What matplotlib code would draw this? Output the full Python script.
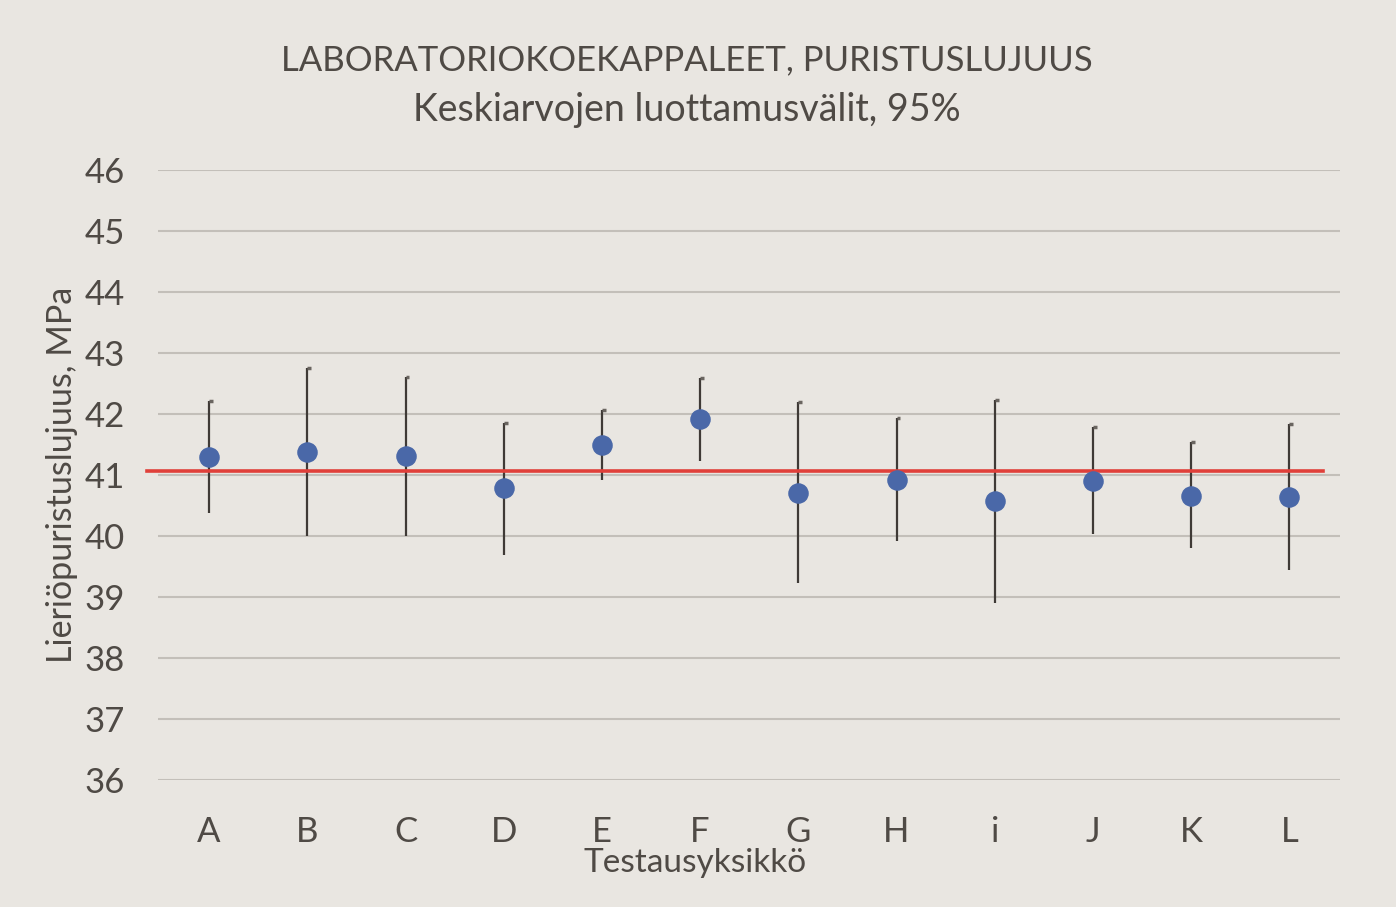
import numpy as np
import matplotlib.pyplot as plt

# data
yksikot = ["A", "B", "C", "D", "E", "F", "G", "H", "i", "J", "K", "L"]
keskiarvo = [41.30, 41.38, 41.31, 40.79, 41.49, 41.92, 40.70, 40.92, 40.57, 40.90, 40.66, 40.64]
ylaraja = [42.21, 42.75, 42.61, 41.85, 42.07, 42.59, 42.20, 41.93, 42.23, 41.79, 41.54, 41.84]
alaraja = [40.38, 40.00, 40.00, 39.69, 40.92, 41.23, 39.23, 39.92, 38.90, 40.03, 39.80, 39.44]
kokonaiskeskiarvo = 41.07

bg = "#E9E6E1"
txt = "#4F4A45"
plt.rcParams['font.family'] = ['Lato', 'DejaVu Sans']

W, H = 1396, 907
fig = plt.figure(figsize=(W / 100, H / 100), dpi=100, facecolor=bg)
ax = fig.add_axes([0.1132, 0.14, 0.847, 0.6726], facecolor=bg)

x = np.arange(len(yksikot))
ax.vlines(x, alaraja, ylaraja, color="#3F3A36", lw=1.6, zorder=3)
ax.hlines(ylaraja, x, x + 0.04, color="#6A6560", lw=2.5, zorder=3)
ax.plot([-0.63, 11.34], [kokonaiskeskiarvo] * 2, color="#E0403A", lw=2.6,
        clip_on=False, zorder=4)
ax.scatter(x, keskiarvo, s=190, color="#4A68A8", zorder=5)

ax.set_ylim(36, 46)
ax.set_xlim(-0.52, 11.52)
ax.set_yticks(range(36, 47))
ax.set_xticks(x)
ax.set_xticklabels(yksikot)
ax.yaxis.grid(True, color="#C3BFB9", lw=1.5)
ax.set_axisbelow(True)
for s in ax.spines.values():
    s.set_visible(False)
ax.tick_params(length=0, colors=txt, labelsize=25)
ax.tick_params(axis="y", pad=24)
ax.tick_params(axis="x", pad=26)

# otsikot ja akselien nimet
fig.text(695 / W, 1 - 863 / H, "Testausyksikkö", fontsize=24, color=txt,
         ha="center", va="center")
fig.text(62 / W, 1 - 475 / H, "Lieriöpuristuslujuus, MPa", fontsize=24.5,
         color=txt, ha="center", va="center", rotation=90)
fig.text(687 / W, 1 - 60 / H, "LABORATORIOKOEKAPPALEET, PURISTUSLUJUUS",
         fontsize=25, color=txt, ha="center", va="center")
fig.text(687 / W, 1 - 110 / H, "Keskiarvojen luottamusvälit, 95%",
         fontsize=27, color=txt, ha="center", va="center")

fig.savefig("out.png", dpi=100, facecolor=bg)
